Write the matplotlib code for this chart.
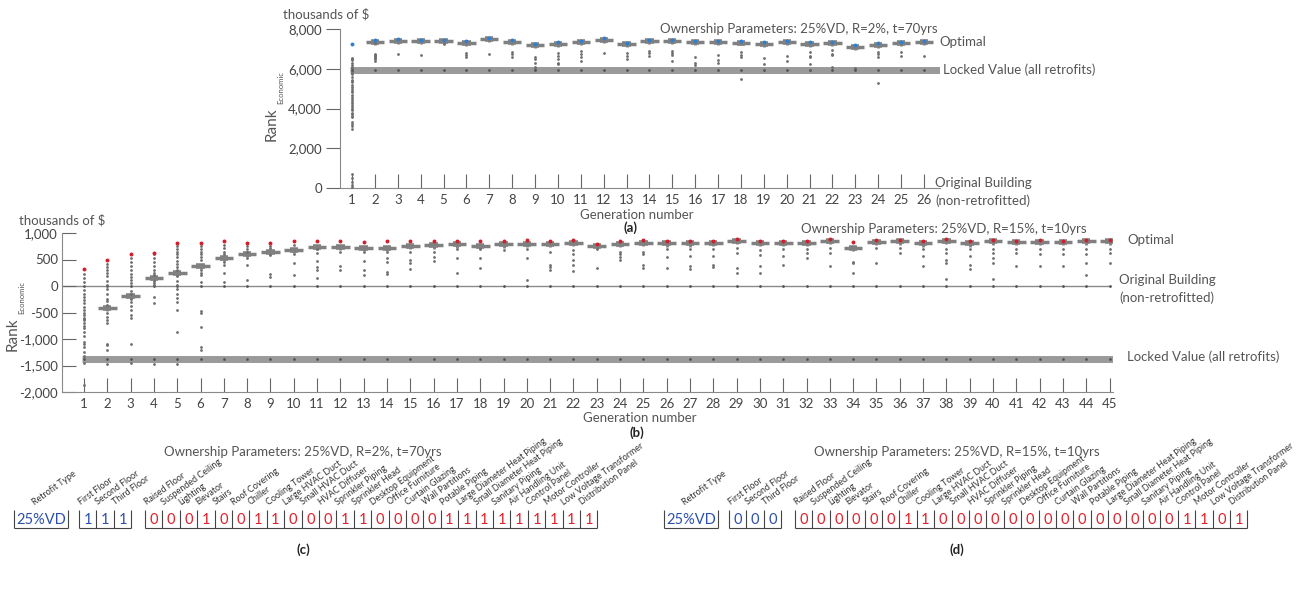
import matplotlib
matplotlib.use("Agg")
import matplotlib.pyplot as plt
import numpy as np

plt.rcParams['font.family'] = ['Lato', 'DejaVu Sans']

nan = float('nan')

# ---- panel (a): R=2%, t=70yrs ----
gens_a = list(range(1, 27))
median_a = [nan, 7365, 7415, 7400, 7400, 7315, 7485, 7350, 7185, 7265, 7335, 7450, 7250,
            7385, 7380, 7340, 7335, 7320, 7265, 7335, 7265, 7280, 7115, 7200, 7290, 7330]
best_a = [7235, 7440, 7480, 7460, 7470, 7390, 7560, 7430, 7270, 7340, 7410, 7530, 7320,
          7470, 7460, 7420, 7420, 7400, 7350, 7420, 7350, 7360, 7210, 7290, 7370, 7410]
others_a = [
    [6550, 6480, 6420, 6300, 6180, 6100, 6020, 5900, 5800, 5720, 5600, 5450, 5400, 5320, 5200,
     5080, 5000, 4900, 4820, 4700, 4600, 4480, 4400, 4280, 4200, 4080, 3980, 3900, 3780, 3700,
     3620, 3560, 3300, 3200, 3100, 2950, 700, 480, 300, 150, 40],
    [7300, 6750, 6700, 6650, 6600, 6550, 6480, 6400],
    [6750], [6700], [7250], [6800, 6700, 6600], [6750], [6850, 6750, 6600],
    [6600, 6500, 6300, 6100, 5980], [6800, 6650, 6500, 6300, 6250], [6900, 6750, 6600, 6400],
    [6800], [6800, 6650, 6500], [6900, 6800, 6650], [6900, 6800, 6700, 6400], [6600, 6300, 6200],
    [6700, 6450, 6300], [6850, 6700, 6600, 5500], [6550, 6250], [6650, 6400],
    [6850, 6650, 6600, 6250], [6950, 6750, 6700, 6100], [6020, 5990], [6850, 6750, 6600, 5300],
    [6850, 6650], [6650],
]
locked_a = 5950

# ---- panel (b): R=15%, t=10yrs ----
gens_b = list(range(1, 46))
median_b = [nan, -420, -180, 150, 240, 380, 525, 600, 637, 680, 740, 735, 715, 715, 750,
            765, 785, 760, 785, 800, 800, 820, 760, 800, 820, 805, 805, 815, 855, 815,
            820, 815, 855, 715, 835, 840, 805, 855, 805, 840, 825, 835, 825, 840, 840]
best_b = [320, 500, 610, 630, 820, 820, 850, 820, 820, 840, 850, 845, 830, 840, 845,
          845, 850, 840, 845, 860, 855, 870, 800, 845, 860, 850, 840, 850, 880, 850,
          855, 850, 880, 830, 865, 860, 840, 880, 840, 860, 855, 860, 850, 860, 860]
others_b = [
    [220, 150, 80, -80, -150, -200, -270, -330, -400, -450, -500, -550, -600, -620, -650,
     -700, -750, -800, -870, -950, -1050, -1100, -1150, -1250, -1330, -1450, -1870],
    [420, 350, 300, 250, 180, 100, 20, -50, -150, -250, -280, -350, -500, -580, -650, -700,
     -1100, -1120, -1200, -1480],
    [520, 450, 380, 300, 220, 170, 120, 60, -100, -150, -250, -300, -380, -450, -550, -600,
     -1100, -1450],
    [600, 520, 450, 380, 300, 250, 200, 100, 60, 20, -200, -330, -1480],
    [760, 700, 640, 600, 550, 480, 420, 360, 300, 180, 100, 20, -60, -150, -230, -300, -450,
     -870, -1480],
    [760, 700, 650, 600, 550, 500, 300, 250, 200, 80, -480, -500, -780, -1150, -1200],
    [780, 720, 650, 600, 450, 400, 250, 80],
    [760, 700, 650, 520, 400, 120],
    [760, 720, 580, 220, 170],
    [780, 600, 430, 200],
    [700, 620, 470, 350, 300, 150],
    [650, 380, 300],
    [650, 480, 300, 200],
    [650, 520, 450, 260, 220],
    [650, 500, 430, 320],
    [650, 550, 480],
    [700, 525, 243], [700, 525, 337], [680], [700, 525, 118], [650, 400, 350, 300],
    [680, 600, 500, 400, 280], [700, 337], [650, 600, 550, 500], [650, 600, 400, 340],
    [700, 550, 337], [700, 560, 370, 330], [700, 560, 400, 350], [720, 620, 340, 250],
    [680, 580, 380, 250], [700, 560, 400], [700, 620, 530], [720, 620, 370], [460, 430, 250],
    [720, 430], [720, 620], [700, 560, 370], [700, 620, 500, 430, 140], [700, 560, 400, 330],
    [700, 620, 530, 430, 140], [700, 620, 370], [700, 600, 370], [700, 600, 370],
    [700, 600, 430, 200], [700, 620, 430],
]
locked_b = -1380
original_b = 0

# ---- retrofit tables (c) and (d) ----
floors = ['First Floor', 'Second Floor', 'Third Floor']
components = ['Raised Floor', 'Suspended Ceiling', 'Lighting', 'Elevator', 'Stairs',
              'Roof Covering', 'Chiller', 'Cooling Tower', 'Large HVAC Duct', 'Small HVAC Duct',
              'HVAC Diffuser', 'Sprinkler Piping', 'Sprinkler Head', 'Desktop Equipment',
              'Office Furniture', 'Curtain Glazing', 'Wall Partitions', 'Potable Piping',
              'Large Diameter Heat Piping', 'Small Diameter Heat Piping', 'Sanitary Piping',
              'Air Handling Unit', 'Control Panel', 'Motor Controller',
              'Low Voltage Transformer', 'Distribution Panel']
floors_c = [1, 1, 1]
comps_c = [0, 0, 0, 1, 0, 0, 1, 1, 0, 0, 0, 1, 1, 0, 0, 0, 0, 1, 1, 1, 1, 1, 1, 1, 1, 1]
floors_d = [0, 0, 0]
comps_d = [0, 0, 0, 0, 0, 0, 1, 1, 0, 0, 0, 0, 0, 0, 0, 0, 0, 0, 0, 0, 0, 0, 1, 1, 0, 1]

W, H = 1305, 595
GRAY = '#808080'
TXT = '#555555'
RED = '#e0202a'
BLUE = '#2c4fae'

fig = plt.figure(figsize=(W / 100, H / 100), dpi=100)


def px_axes(l, t, r, b):
    return fig.add_axes([l / W, 1 - b / H, (r - l) / W, (b - t) / H])


def ftext(x, y, s, **kw):
    kw.setdefault('color', TXT)
    kw.setdefault('fontsize', 9.5)
    kw.setdefault('va', 'center')
    fig.text(x / W, 1 - y / H, s, **kw)


def draw_gens(ax, gens, med, best, others, best_color, locked, x1):
    ax.hlines(locked, 0.9, x1, color='#9a9a9a', lw=5, zorder=1)
    for g, m, b, o in zip(gens, med, best, others):
        if not np.isnan(m):
            ax.hlines(m, g - 0.4, g + 0.4, color=GRAY, lw=2.5, zorder=2)
            ax.hlines(m, g - 0.18, g + 0.18, color=GRAY, lw=4, zorder=2)
            ax.vlines(g, m - 60 if locked < 0 else m - 150, m, color=GRAY, lw=2, zorder=2)
        ax.scatter([g] * len(o), o, s=4, color='#6e6e6e', lw=0, zorder=3)
        ax.scatter([g], [locked], s=4, color='#555555', lw=0, zorder=3)
        ax.scatter([g], [b], s=8, color=best_color, lw=0, zorder=4)


def style(ax, gens, ydir):
    ax.set_xticks(gens)
    ax.tick_params(axis='x', direction='in', length=10, width=0.8, color='#666666',
                   labelsize=9.5, labelcolor='#444444', pad=4)
    ax.tick_params(axis='y', direction=ydir, length=10, width=0.8, color='#666666',
                   labelsize=9.5, labelcolor='#444444', pad=3)
    for s in ['top', 'right']:
        ax.spines[s].set_visible(False)
    for s in ['left', 'bottom']:
        ax.spines[s].set_color('#8a8a8a')
        ax.spines[s].set_linewidth(0.8)
    ax.yaxis.set_major_formatter(matplotlib.ticker.FuncFormatter(lambda v, p: f'{int(v):,}'))


# panel (a)
ax_a = px_axes(340, 29, 940, 188)
draw_gens(ax_a, gens_a, median_a, best_a, others_a, '#2f7fd0', locked_a, 26.7)
ax_a.set_xlim(0.475, 26.7)
ax_a.set_ylim(0, 8000)
ax_a.set_yticks([0, 2000, 4000, 6000, 8000])
style(ax_a, gens_a, 'out')

# panel (b)
ax_b = px_axes(62, 233, 1113, 392)
ax_b.hlines(original_b, 0.057, 45, color='#8a8a8a', lw=1, zorder=1)
ax_b.scatter(gens_b, [original_b] * len(gens_b), s=4, color='#555555', lw=0, zorder=3)
draw_gens(ax_b, gens_b, median_b, best_b, others_b, '#d0202c', locked_b, 45.15)
ax_b.set_xlim(0.057, 45.15)
ax_b.set_ylim(-2000, 1000)
ax_b.set_yticks([-2000, -1500, -1000, -500, 0, 500, 1000])
style(ax_b, gens_b, 'in')

ftext(283, 14, 'thousands of $')
ftext(272, 124, 'Rank', rotation=90, fontsize=11, ha='center')
ftext(281, 87, 'Economic', rotation=90, fontsize=5.5, ha='center')
ftext(660, 29, 'Ownership Parameters: 25%VD, R=2%, t=70yrs')
ftext(939, 42, 'Optimal')
ftext(943, 70, 'Locked Value (all retrofits)')
ftext(935, 183, 'Original Building')
ftext(935, 201, '(non-retrofitted)')
ftext(637, 215, 'Generation number', ha='center')
ftext(630, 228, '(a)', ha='center', color='#222222', fontweight='bold')

ftext(19, 220, 'thousands of $')
ftext(13, 334, 'Rank', rotation=90, fontsize=11, ha='center')
ftext(22, 297, 'Economic', rotation=90, fontsize=5.5, ha='center')
ftext(1087, 229, 'Ownership Parameters: 25%VD, R=15%, t=10yrs', ha='right')
ftext(1127, 240, 'Optimal')
ftext(1119, 280, 'Original Building')
ftext(1119, 298, '(non-retrofitted)')
ftext(1127, 357, 'Locked Value (all retrofits)')
ftext(640, 418, 'Generation number', ha='center')
ftext(637, 433, '(b)', ha='center', color='#222222', fontweight='bold')

# tables (c), (d)
ax_t = fig.add_axes([0, 0, 1, 1])
ax_t.set_xlim(0, W)
ax_t.set_ylim(H, 0)
ax_t.axis('off')

cell = 17.4
top, bot = 510, 528
ROT = 36
LFS = 6.4


def draw_group(x0, labels, vals, color):
    n = len(vals)
    xs = [x0 + i * cell for i in range(n + 1)]
    ax_t.vlines(xs, top, bot, color='#444444', lw=0.8)
    ax_t.hlines(bot, xs[0], xs[-1], color='#444444', lw=0.8)
    for i, v in enumerate(vals):
        cx = x0 + (i + 0.5) * cell
        ax_t.text(cx, (top + bot) / 2 + 1, str(v), color=color, fontsize=10.5,
                  ha='center', va='center')
        ax_t.text(cx - 6, top - 3, labels[i], rotation=ROT, rotation_mode='anchor',
                  ha='left', va='bottom', fontsize=LFS, color='#333333')


def draw_table(x_vd, x_fl, x_co, fl, co, title, tag, tx):
    ax_t.vlines([x_vd, x_vd + 54], top, bot, color='#444444', lw=0.8)
    ax_t.hlines(bot, x_vd, x_vd + 54, color='#444444', lw=0.8)
    ax_t.text(x_vd + 27, (top + bot) / 2 + 1, '25%VD', color=BLUE, fontsize=10.5,
              ha='center', va='center')
    ax_t.text(x_vd + 22, top - 3, 'Retrofit Type', rotation=ROT, rotation_mode='anchor',
              ha='left', va='bottom', fontsize=LFS, color='#333333')
    draw_group(x_fl, floors, fl, BLUE)
    draw_group(x_co, components, co, RED)
    ax_t.text(tx, 452, title, ha='center', va='center', fontsize=9.5, color=TXT)
    ax_t.text(tx, 550, tag, ha='center', va='center', fontsize=9.5, color='#222222',
              fontweight='bold')


draw_table(14, 79, 145, floors_c, comps_c, 'Ownership Parameters: 25%VD, R=2%, t=70yrs',
           '(c)', 303)
draw_table(664, 729, 795, floors_d, comps_d, 'Ownership Parameters: 25%VD, R=15%, t=10yrs',
           '(d)', 957)

fig.savefig('out.png', dpi=100)
